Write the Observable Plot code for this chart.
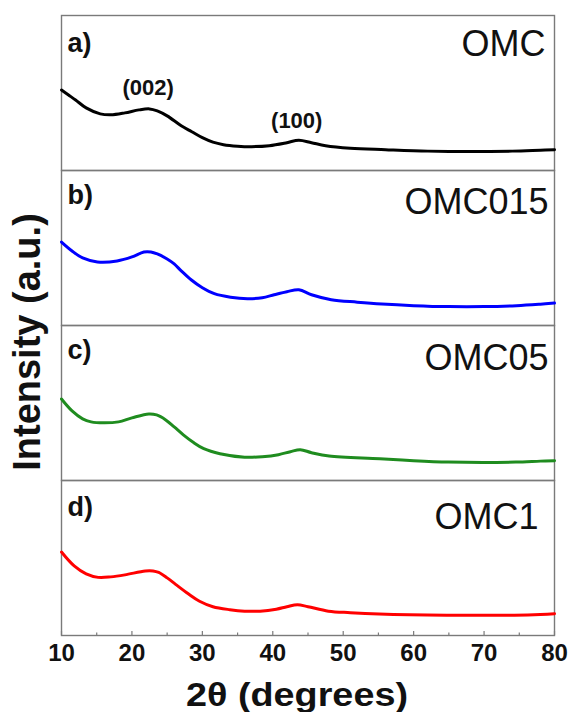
<!DOCTYPE html>
<html>
<head>
<meta charset="utf-8">
<script src="https://cdn.jsdelivr.net/npm/d3@7"></script>
<script src="https://cdn.jsdelivr.net/npm/@observablehq/plot@0.6"></script>
<style>
  html, body { margin: 0; padding: 0; background: #fff; }
  #chart svg { font-family: "Liberation Sans", Arial, sans-serif; background: #fff; }
</style>
</head>
<body>
<div id="chart"></div>
<script>
// ---- data ----
const panels = ["a", "b", "c", "d"];
const tags = ["a)", "b)", "c)", "d)"];
const names = ["OMC", "OMC015", "OMC05", "OMC1"];
const colors = ["#000000", "#0000ff", "#1f8c1f", "#ff0000"];

// [2θ, intensity (a.u.)]
const omc = [[10,81],[11,76],[12,71],[13.5,63],[15.5,57],[17,56],[19,58],[21,61],[22.5,62],[23.6,60],[25,55],[27,45],[28.5,39],[30,33],[31.5,28.5],[33,26],[35,24.5],[37,24],[39.5,25],[42,28],[43.7,30.5],[45.5,28],[47.5,25],[51,22.5],[56,21],[62,19.5],[68,19],[74,19.5],[78,20.5],[80,21]];
const omc015 = [[10,84],[11.5,75],[13,68],[15.1,64],[17.9,65],[20,69],[21.7,74],[22.7,74],[23.6,72],[25,67],[26,62],[27,55],[28.4,46],[30,38],[31.7,32],[34,28.5],[36.4,27],[38.5,28],[40.2,31],[42,34],[43.7,36],[45.5,31],[48.3,26],[52,23.5],[55.5,21.6],[60,20],[65,19],[70,19],[74.6,20],[78,21.5],[80,22.6]];
const omc05 = [[10,82],[11.5,70],[13,62],[14.2,59],[16,58],[18.1,59],[20,63],[22.4,67],[23.5,66],[24.8,61],[26,54],[27.3,46],[28.8,38],[30.2,32],[32.5,27],[36,23.5],[38.5,24],[40.8,26],[42.5,29],[43.9,31],[45.5,28],[48,24.6],[55.2,22],[60,20],[64.9,18.5],[70,18],[74.5,18.5],[78,19.5],[80,20]];
const omc1 = [[10,84],[11.8,70],[13.5,62],[15.2,58.5],[17,59],[19,61],[21.9,65],[23,65],[23.8,63.5],[25,58],[26.2,51.5],[28,42],[29.6,34.5],[31.5,29],[33.9,26],[36,24.5],[38.2,24.5],[40.5,26.5],[42,29],[43.5,31],[45,29],[47.9,24.5],[51,23],[55.1,21.7],[64.7,20.5],[74.3,20.5],[78,21.2],[80,22]];
const series = [omc, omc015, omc05, omc1];

const xTicks = [10, 20, 30, 40, 50, 60, 70, 80];
const xMinorTicks = [15, 25, 35, 45, 55, 65, 75];
const peakX = [22.3, 43.4];
const peakLabels = ["(002)", "(100)"];
const xLabel = "2θ (degrees)";
const yLabel = "Intensity (a.u.)";

// ---- tables ----
const rows = series.flatMap((s, i) => s.map(([x, y]) => ({panel: panels[i], x, y})));
const panelRows = panels.map((p, i) => ({panel: p, tag: tags[i], name: names[i]}));
const majorRows = xTicks.map(t => ({t, panel: "d"}));
const minorRows = xMinorTicks.map(t => ({t, panel: "d"}));
const peakRows = peakX.map((x, i) => ({x, label: peakLabels[i], panel: "a"}));

// ---- layout (positions/styles only) ----
const nameOffsets = [[-9, 15], [-6, 18], [-6, 19], [-16, 23]];
const tagOffsets = [[6, 17], [6, 14], [6, 14], [6, 16]];
const peakDy = [64, 97];

const marks = [
  Plot.frame({stroke: "#7a7a7a", strokeWidth: 1.4}),
  Plot.line(rows, {x: "x", y: "y", fy: "panel", z: "panel", stroke: "panel", strokeWidth: 3, curve: "catmull-rom"}),
  Plot.ruleX(majorRows, {x: "t", fy: "panel", y1: 0, y2: 4, stroke: "#7a7a7a", strokeWidth: 1.2}),
  Plot.ruleX(minorRows, {x: "t", fy: "panel", y1: 0, y2: 2.5, stroke: "#7a7a7a", strokeWidth: 1.2}),
  // tick labels under the bottom panel
  Plot.text(majorRows, {x: "t", fy: "panel", text: d => String(d.t), frameAnchor: "bottom", lineAnchor: "top",
    dy: 8, fontSize: 24, fontWeight: "bold", fill: "#111"})
];
panelRows.forEach((r, i) => {
  marks.push(Plot.text([r], {fy: "panel", text: "name", frameAnchor: "top-right", lineAnchor: "top",
    dx: nameOffsets[i][0], dy: nameOffsets[i][1], fontSize: 36, fill: "#111"}));
  marks.push(Plot.text([r], {fy: "panel", text: "tag", frameAnchor: "top-left", lineAnchor: "top",
    dx: tagOffsets[i][0], dy: tagOffsets[i][1], fontSize: 27, fontWeight: "bold", fill: "#111"}));
});
peakRows.forEach((r, i) => {
  marks.push(Plot.text([r], {x: "x", fy: "panel", text: "label", frameAnchor: "top", lineAnchor: "top",
    dy: peakDy[i], fontSize: 22, fontWeight: "bold", fill: "#111"}));
});

const plot = Plot.plot({
  width: 569,
  height: 712,
  marginTop: 13,
  marginBottom: 76,
  marginLeft: 61,
  marginRight: 15,
  x: {domain: [10, 80], axis: null},
  y: {domain: [0, 156], axis: null},
  fy: {domain: panels, axis: null, padding: 0},
  color: {domain: panels, range: colors},
  marks
});

const svg = d3.select(plot);
svg.append("text")
  .attr("transform", "translate(40,342) rotate(-90)")
  .attr("text-anchor", "middle")
  .attr("font-size", 38)
  .attr("font-weight", "bold")
  .attr("fill", "#111")
  .text(yLabel);
svg.append("text")
  .attr("x", 297)
  .attr("y", 706)
  .attr("text-anchor", "middle")
  .attr("font-size", 33)
  .attr("font-weight", "bold")
  .attr("fill", "#111")
  .attr("textLength", 222)
  .attr("lengthAdjust", "spacingAndGlyphs")
  .text(xLabel);

document.getElementById("chart").appendChild(plot);
</script>
</body>
</html>
